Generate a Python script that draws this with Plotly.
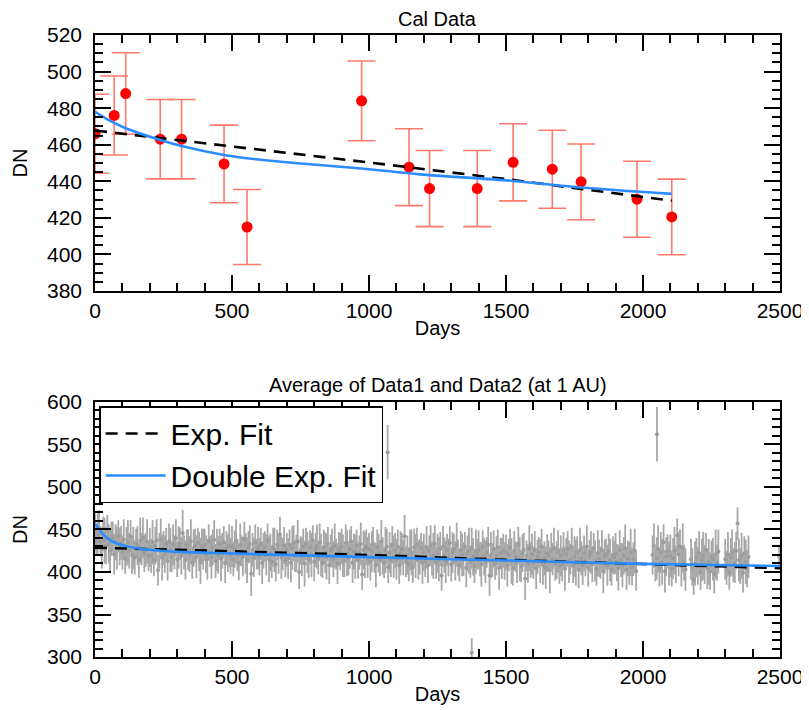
import plotly.graph_objects as go

# ---- top panel: calibration points ----
cal_days = [0, 70, 112, 238, 316, 471, 555, 973, 1146, 1221, 1395, 1526, 1669, 1774, 1978, 2105]
cal_dn = [466, 476, 488, 463, 463, 449.5, 415, 484, 447.7, 436, 436, 450.4, 446.6, 439.7, 430.2, 420.5]
cal_err = [21.6, 21.6, 22.3, 21.7, 21.7, 21.2, 20.5, 21.8, 21.0, 20.8, 20.8, 21.1, 21.3, 20.7, 20.8, 20.7]

cal_exp_days = [0, 500, 1000, 1500, 2000, 2105]
cal_exp_dn = [467.8, 459.1, 450.3, 441.2, 431.6, 429.4]

cal_dexp_days = [0, 56, 112, 238, 316, 471, 555, 750, 973, 1186, 1526, 1774, 2105]
cal_dexp_dn = [478.0, 473.0, 469.0, 462.6, 459.3, 454.4, 452.6, 449.7, 447.0, 443.8, 440.2, 436.6, 433.1]

# ---- bottom panel: averaged daily data (5-day grid) ----
avg_days = list(range(0, 2400, 5))
avg_dn = [
    447, 438, 444, 452, 436, 428, 445, 437, 431, 448, 433, 425, 439, 441, 421, 435, 428, 442, 430, 434,
    423, 438, 416, 430, 435, 425, 442, 420, 428, 417, 434, 431, 414, 437, 427, 440, 422, 426, 436, 419,
    429, 419, 435, 414, 431, 437, 402, 425, 439, 417, 428, 421, 433, 413, 436, 426, 418, 432, 423, 440,
    415, 429, 433, 419, 446, 423, 414, 432, 426, 421, 436, 411, 428, 431, 418, 434, 424, 413, 430, 427,
    432, 421, 415, 436, 424, 418, 429, 438, 413, 426, 420, 433, 416, 425, 435, 411, 428, 422, 431, 419,
    430, 415, 427, 436, 420, 411, 432, 425, 418, 439, 422, 414, 429, 433, 398, 426, 417, 435, 421, 428,
    418, 433, 411, 425, 430, 420, 437, 415, 423, 412, 429, 426, 409, 432, 422, 444, 417, 421, 431, 414,
    426, 416, 432, 411, 428, 434, 419, 422, 436, 400, 425, 418, 430, 410, 433, 423, 415, 429, 420, 437,
    412, 426, 430, 416, 435, 420, 411, 429, 423, 418, 433, 408, 425, 428, 415, 431, 421, 410, 427, 424,
    430, 419, 413, 434, 422, 416, 427, 436, 411, 424, 418, 431, 414, 423, 433, 397, 426, 420, 429, 417,
    427, 412, 424, 433, 417, 408, 429, 422, 415, 436, 419, 411, 426, 430, 406, 423, 414, 432, 418, 425,
    415, 430, 408, 422, 427, 417, 442, 412, 420, 409, 426, 423, 406, 429, 419, 432, 414, 418, 428, 411,
    423, 413, 429, 408, 425, 431, 416, 419, 433, 411, 422, 415, 427, 396, 430, 420, 412, 426, 417, 434,
    409, 423, 427, 413, 432, 417, 408, 426, 420, 415, 430, 405, 422, 425, 412, 428, 418, 407, 424, 421,
    426, 415, 409, 430, 418, 412, 423, 432, 396, 420, 414, 427, 410, 419, 429, 405, 422, 416, 425, 413,
    423, 408, 420, 429, 413, 404, 425, 418, 411, 432, 415, 407, 422, 426, 392, 419, 410, 428, 414, 421,
    411, 426, 404, 418, 423, 413, 430, 408, 416, 405, 422, 419, 402, 425, 415, 428, 410, 414, 424, 407,
    419, 409, 425, 404, 421, 427, 412, 415, 429, 407, 418, 411, 423, 403, 426, 416, 408, 422, 413, 430,
    405, 419, 423, 409, 428, 413, 404, 422, 416, 411, 426, 401, 418, 421, 408, 424, 414, 403, 420, 417,
    422, 411, 405, 426, 414, 408, 419, 428, 403, 416, 410, 423, 406, 415, 425, 401, None, None, None, None,
    None, None, None, None, None, None, None, 420, 431, 409, 416, 427, 405, 423, 412, 435, 401, 418, 424, 410,
    419, 404, 416, 425, 409, 443, 421, 430, 407, 428, 411, 403, None, None, None, 415, 406, 391, 410, 417,
    407, 422, 400, 414, 419, 409, 426, 404, 412, 401, 418, 415, 398, 421, 411, 424, None, None, None, None,
    415, 405, 421, 400, 417, 423, 408, 411, 425, 457, 414, 407, 419, 399, 422, 412, 404, 418, None, None,
]
avg_err = [
    22, 19, 25, 21, 18, 24, 20, 27, 22, 19, 23, 26, 20, 18, 24, 21, 25, 19, 22, 20,
    20, 24, 18, 23, 26, 21, 19, 22, 25, 20, 17, 23, 21, 27, 19, 24, 22, 20, 26, 18,
    23, 20, 26, 19, 22, 25, 18, 21, 24, 27, 20, 22, 19, 23, 21, 26, 18, 24, 20, 22,
    21, 25, 19, 22, 27, 20, 23, 18, 24, 21, 26, 19, 22, 20, 25, 18, 23, 27, 21, 24,
    19, 22, 24, 20, 18, 26, 21, 23, 20, 25, 22, 18, 27, 21, 19, 24, 20, 22, 25, 21,
    24, 20, 22, 26, 19, 21, 25, 18, 23, 20, 24, 27, 19, 22, 26, 20, 23, 21, 18, 25,
    22, 19, 25, 21, 18, 24, 20, 27, 22, 19, 23, 26, 20, 18, 24, 21, 25, 19, 22, 20,
    20, 24, 18, 23, 26, 21, 19, 22, 25, 20, 17, 23, 21, 27, 19, 24, 22, 20, 26, 18,
    23, 20, 26, 19, 22, 25, 18, 21, 24, 27, 20, 22, 19, 23, 21, 26, 18, 24, 20, 22,
    21, 25, 19, 22, 27, 20, 23, 18, 24, 21, 26, 19, 22, 20, 25, 18, 23, 27, 21, 24,
    19, 22, 24, 20, 18, 26, 21, 23, 20, 25, 22, 18, 27, 21, 19, 24, 20, 22, 25, 21,
    24, 20, 22, 26, 19, 21, 25, 18, 23, 20, 24, 27, 19, 22, 26, 20, 23, 21, 18, 25,
    22, 19, 25, 21, 18, 24, 20, 27, 22, 19, 23, 26, 20, 18, 24, 21, 25, 19, 22, 20,
    20, 24, 18, 23, 26, 21, 19, 22, 25, 20, 17, 23, 21, 27, 19, 24, 22, 20, 26, 18,
    23, 20, 26, 19, 22, 25, 18, 21, 24, 27, 20, 22, 19, 23, 21, 26, 18, 24, 20, 22,
    21, 25, 19, 22, 27, 20, 23, 18, 24, 21, 26, 19, 22, 20, 25, 18, 23, 27, 21, 24,
    19, 22, 24, 20, 18, 26, 21, 23, 20, 25, 22, 18, 27, 21, 19, 24, 20, 22, 25, 21,
    24, 20, 22, 26, 19, 21, 25, 18, 23, 20, 24, 27, 19, 22, 26, 20, 23, 21, 18, 25,
    22, 19, 25, 21, 18, 24, 20, 27, 22, 19, 23, 26, 20, 18, 24, 21, 25, 19, 22, 20,
    24, 22, 27, 23, 20, 26, 22, 28, 24, 21, 25, 28, 22, 20, 26, 23, 0, 0, 0, 0,
    0, 0, 0, 0, 0, 0, 0, 23, 26, 20, 25, 28, 22, 24, 27, 21, 25, 23, 20, 26,
    25, 21, 24, 28, 22, 20, 26, 20, 24, 29, 21, 25, 0, 0, 0, 24, 22, 18, 26, 23,
    22, 26, 21, 25, 28, 23, 20, 24, 27, 22, 19, 25, 23, 29, 21, 26, 0, 0, 0, 0,
    24, 20, 26, 21, 23, 27, 20, 24, 22, 19, 25, 21, 27, 23, 20, 26, 22, 25, 0, 0,
]

# isolated points off the main band
out_days = [1068, 1375, 2051, 2497]
out_dn = [541, 305, 562, 418]
out_err = [32, 17, 32, 12]

avg_exp_days = [0, 500, 1000, 1500, 2000, 2500]
avg_exp_dn = [428.6, 424.0, 420.0, 414.3, 409.0, 404.5]

avg_dexp_days = [0, 13, 26, 45, 62, 85, 111, 172, 293, 476, 750, 1000, 1500, 2000, 2500]
avg_dexp_dn = [457.0, 451.0, 445.5, 440.0, 436.0, 433.0, 430.6, 427.0, 424.0, 422.0, 419.6, 417.5, 413.5, 409.6, 407.0]

FONT = 'Liberation Sans, Arial, sans-serif'
RED = '#ff0000'
ERR_RED = '#ff7a6a'
GRAY = '#a8a8a8'
BLUE = '#2a8cff'

fig = go.Figure()

fig.add_trace(go.Scatter(
    x=cal_days, y=cal_dn, mode='markers', showlegend=False,
    marker=dict(color=RED, size=11),
    error_y=dict(type='data', array=cal_err, color=ERR_RED, thickness=1.6, width=14),
    xaxis='x', yaxis='y'))
fig.add_trace(go.Scatter(
    x=cal_exp_days, y=cal_exp_dn, mode='lines', showlegend=False,
    line=dict(color='black', width=2.6, dash='12px,8px'), xaxis='x', yaxis='y'))
fig.add_trace(go.Scatter(
    x=cal_dexp_days, y=cal_dexp_dn, mode='lines', showlegend=False,
    line=dict(color=BLUE, width=2.6, shape='spline', smoothing=0.8), xaxis='x', yaxis='y'))

for xs, ys, es in [(avg_days, avg_dn, avg_err), (out_days, out_dn, out_err)]:
    fig.add_trace(go.Scatter(
        x=xs, y=ys, mode='markers', showlegend=False,
        marker=dict(color='#9c9c9c', size=4),
        error_y=dict(type='data', array=es, color=GRAY, thickness=1.8, width=0),
        xaxis='x2', yaxis='y2'))

fig.add_trace(go.Scatter(
    x=avg_exp_days, y=avg_exp_dn, mode='lines', name='Exp. Fit',
    line=dict(color='black', width=2.6, dash='12px,8px'), xaxis='x2', yaxis='y2'))
fig.add_trace(go.Scatter(
    x=avg_dexp_days, y=avg_dexp_dn, mode='lines', name='Double Exp. Fit',
    line=dict(color=BLUE, width=2.6, shape='spline', smoothing=0.8), xaxis='x2', yaxis='y2'))


def frame(**kw):
    d = dict(showline=True, linecolor='black', linewidth=1.5, mirror='allticks',
             ticks='inside', ticklen=16, tickwidth=1.5, tickcolor='black',
             showgrid=False, zeroline=False, automargin=False,
             tickfont=dict(family=FONT, size=21, color='black'))
    d.update(kw)
    return d


minor_x = dict(dtick=100, ticks='inside', ticklen=8, tickwidth=1.5, tickcolor='black', showgrid=False)

# the page body adds an 8px margin, so the figure is 8px smaller than the window
fig.update_layout(
    width=801, height=702,
    margin=dict(l=87, r=29, t=27, b=53),
    paper_bgcolor='white', plot_bgcolor='white',
    font=dict(family=FONT, color='black'),
    xaxis=frame(domain=[0, 1], range=[0, 2500], dtick=500, anchor='y', minor=minor_x,
                title=dict(text='Days', font=dict(family=FONT, size=20), standoff=0)),
    yaxis=frame(domain=[0.5884, 1], range=[380, 520], dtick=20, anchor='x', ticklabelstandoff=7,
                minor=dict(dtick=5, ticks='inside', ticklen=8, tickwidth=1.5, tickcolor='black', showgrid=False),
                title=dict(text='DN', font=dict(family=FONT, size=20), standoff=14)),
    xaxis2=frame(domain=[0, 1], range=[0, 2500], dtick=500, anchor='y2', minor=minor_x,
                 title=dict(text='Days', font=dict(family=FONT, size=20), standoff=0)),
    yaxis2=frame(domain=[0, 0.41], range=[300, 600], dtick=50, anchor='x2', ticklabelstandoff=7,
                 minor=dict(dtick=10, ticks='inside', ticklen=8, tickwidth=1.5, tickcolor='black', showgrid=False),
                 title=dict(text='DN', font=dict(family=FONT, size=20), standoff=14)),
    legend=dict(x=0.006, y=0.4035, xanchor='left', yanchor='top',
                bordercolor='black', borderwidth=1.5, bgcolor='white',
                font=dict(family=FONT, size=30, color='black'), itemwidth=60),
    annotations=[
        dict(text='Cal Data', x=0.5, y=1.026, xref='paper', yref='paper', yanchor='middle',
             showarrow=False, font=dict(family=FONT, size=20)),
        dict(text='Average of Data1 and Data2 (at 1 AU)', x=0.5, y=0.4373, xref='paper', yref='paper',
             yanchor='middle', showarrow=False, font=dict(family=FONT, size=20)),
    ],
)

fig.write_html("out.html")
